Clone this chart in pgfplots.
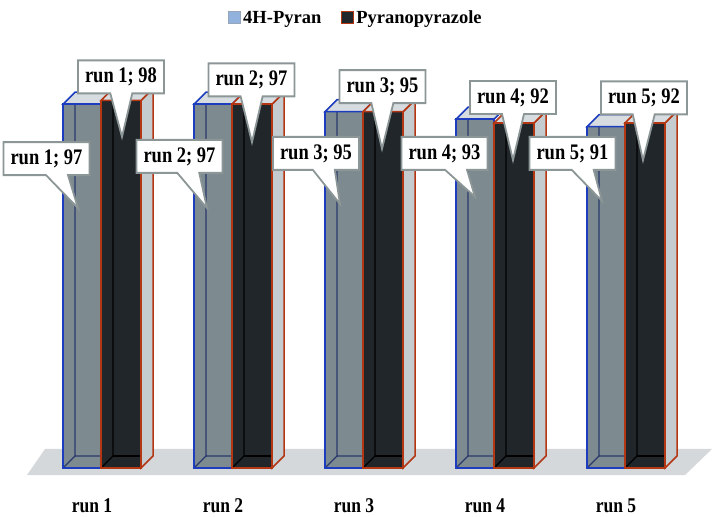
\documentclass[border=0pt]{standalone}
\usepackage{fontspec}
\setmainfont{Liberation Serif}
\usepackage{graphicx}
\usepackage{pgfplots}
\pgfplotsset{compat=1.18}
\usepackage{pgfplotstable}
\usetikzlibrary{shapes.callouts}

\definecolor{greyfront}{RGB}{125,139,144}
\definecolor{blackfront}{RGB}{32,38,42}
\definecolor{blueedge}{RGB}{30,60,190}
\definecolor{orangeedge}{RGB}{180,55,20}
\definecolor{topface}{RGB}{214,220,224}
\definecolor{sideface}{RGB}{196,204,208}
\definecolor{floorgrey}{RGB}{212,216,218}
\definecolor{callgrey}{RGB}{140,150,150}
\definecolor{legblue}{RGB}{146,178,222}
\definecolor{legblueedge}{RGB}{150,165,185}

\pgfplotstableread{
x grey black
0 97 98
131 97 97
262 95 95
393 93 92
524 91 92
}\runs

\newcommand\lab[1]{\scalebox{1}[1.2]{#1}}

\newcommand\greyfaces[2]{%
 \pgfmathsetmacro\La{#1-38}\pgfmathsetmacro\Lb{#1-26}%
 \pgfmathsetmacro\Ra{#1}\pgfmathsetmacro\Rb{#1+12}%
 \pgfmathsetmacro\Vt{#2+3.2}%
 \addplot[forget plot, draw=blueedge!50!black, draw opacity=0.75, line width=1.2bp] coordinates {(\La,0) (\Lb,3.2) (\Lb,\Vt)};
 \addplot[forget plot, draw=blueedge!50!black, draw opacity=0.75, line width=1.2bp] coordinates {(\Lb,3.2) (\Rb,3.2) (\Ra,0)};
 \addplot[forget plot, fill=topface, draw=blueedge, line width=1.5bp] coordinates {(\La,#2) (\Ra,#2) (\Rb,\Vt) (\Lb,\Vt)} --cycle;
}
\newcommand\blackfaces[2]{%
 \pgfmathsetmacro\La{#1}\pgfmathsetmacro\Lb{#1+12}%
 \pgfmathsetmacro\Ra{#1+40}\pgfmathsetmacro\Rb{#1+52}%
 \pgfmathsetmacro\Vt{#2+3.2}%
 \addplot[forget plot, draw=black, line width=1.2bp] coordinates {(\La,0) (\Lb,3.2) (\Lb,\Vt)};
 \addplot[forget plot, draw=black, line width=1.2bp] coordinates {(\Lb,3.2) (\Ra,3.2) (\Ra,0)};
 \addplot[forget plot, fill=sideface, draw=orangeedge, line width=1.5bp] coordinates {(\Ra,0) (\Ra,#2) (\Rb,\Vt) (\Rb,3.2)} --cycle;
 \addplot[forget plot, fill=topface, draw=orangeedge, line width=1.5bp] coordinates {(\La,#2) (\Ra,#2) (\Rb,\Vt) (\Lb,\Vt)} --cycle;
}

\begin{document}
\begin{tikzpicture}[
  callbox/.style={rectangle callout, fill=white, draw=callgrey, line width=1.8bp,
    minimum width=86bp, minimum height=33bp, inner sep=0pt,
    callout pointer width=22bp,
    font=\fontsize{18.5bp}{20bp}\selectfont\bfseries}]
\begin{axis}[
  x=1bp, y=3.75bp,
  xmin=-101, xmax=615, ymin=-12.8, ymax=124.8,
  axis line style={draw=none},
  tick style={draw=none},
  major tick length=0pt,
  ytick=\empty,
  xtick={-9,122,253,384,515},
  xticklabels={\lab{run 1},\lab{run 2},\lab{run 3},\lab{run 4},\lab{run 5}},
  xticklabel style={font=\fontsize{17.5bp}{19bp}\selectfont\bfseries, anchor=base, yshift=4bp, inner sep=0pt},
  clip=false,
  legend image code/.code={\draw[#1] (0bp,-6bp) rectangle (12bp,6bp);},
  legend style={at={(axis cs:127,120)}, anchor=west, draw=none, fill=none,
    inner sep=0pt, font=\fontsize{18.5bp}{20bp}\selectfont\bfseries,
    nodes={inner xsep=2bp, inner ysep=0bp},
    /tikz/every even column/.append style={column sep=18bp}},
  legend columns=2,
]
% floor
\addplot[forget plot, fill=floorgrey, draw=none] coordinates {(-74,-1.87) (-56,5.07) (611,5.07) (584,-1.87)} --cycle;

% 4H-Pyran bars
\addplot[forget plot, ybar, bar width=38bp, bar shift=-19bp, fill=greyfront, draw=none] table[x=x, y=grey]{\runs};
\greyfaces{0}{97}
\greyfaces{131}{97}
\greyfaces{262}{95}
\greyfaces{393}{93}
\greyfaces{524}{91}
\addplot[forget plot, ybar, bar width=38bp, bar shift=-19bp, fill=none, draw=blueedge, line width=1.5bp] table[x=x, y=grey]{\runs};

% Pyranopyrazole bars
\addplot[forget plot, ybar, bar width=40bp, bar shift=20bp, fill=blackfront, draw=none] table[x=x, y=black]{\runs};
\blackfaces{0}{98}
\blackfaces{131}{97}
\blackfaces{262}{95}
\blackfaces{393}{92}
\blackfaces{524}{92}
\addplot[forget plot, ybar, bar width=40bp, bar shift=20bp, fill=none, draw=orangeedge, line width=1.5bp] table[x=x, y=black]{\runs};

\addlegendimage{fill=legblue, draw=legblueedge, line width=1bp}
\addlegendentry{4H-Pyran}
\addlegendimage{fill=blackfront, draw=orangeedge, line width=1bp}
\addlegendentry{Pyranopyrazole}

% callouts
\node[callbox, callout absolute pointer={(axis cs:-23,69.3)}] at (axis cs:-54.5,82.5) {\lab{run 1; 97}};
\node[callbox, callout absolute pointer={(axis cs:21,88.3)}] at (axis cs:20,104.3) {\lab{run 1; 98}};
\node[callbox, callout absolute pointer={(axis cs:106,69.3)}] at (axis cs:78.5,83.1) {\lab{run 2; 97}};
\node[callbox, callout absolute pointer={(axis cs:151,86.9)}] at (axis cs:150.5,103.5) {\lab{run 2; 97}};
\node[callbox, callout absolute pointer={(axis cs:239,70.4)}] at (axis cs:215,83.9) {\lab{run 3; 95}};
\node[callbox, callout absolute pointer={(axis cs:281,85.1)}] at (axis cs:281.5,101.7) {\lab{run 3; 95}};
\node[callbox, callout absolute pointer={(axis cs:374,72.3)}] at (axis cs:343.5,83.9) {\lab{run 4; 93}};
\node[callbox, callout absolute pointer={(axis cs:412,82.1)}] at (axis cs:412,98.8) {\lab{run 4; 92}};
\node[callbox, callout absolute pointer={(axis cs:501,71.2)}] at (axis cs:471.5,83.9) {\lab{run 5; 91}};
\node[callbox, callout absolute pointer={(axis cs:542,82.1)}] at (axis cs:543,98.7) {\lab{run 5; 92}};
\end{axis}
\end{tikzpicture}
\end{document}
